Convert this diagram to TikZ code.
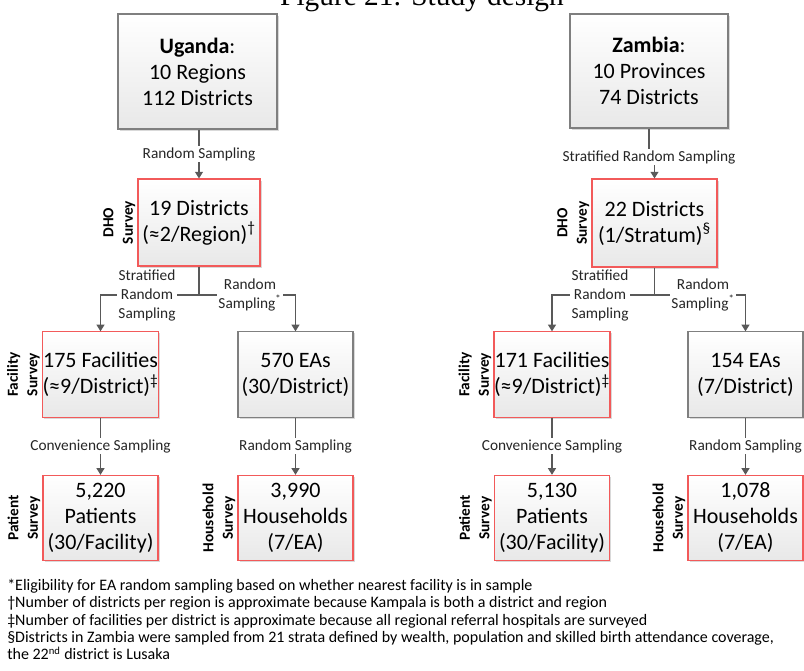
\documentclass[tikz,border=0pt]{standalone}
\usepackage{fontspec}
\setmainfont{Carlito}
\newfontfamily\titlefont{Liberation Serif}
\usetikzlibrary{arrows.meta,shadows}
\definecolor{redb}{HTML}{F25A5A}
\definecolor{greyb}{HTML}{7F7F7F}
\definecolor{arrc}{HTML}{595959}
\begin{document}
\begin{tikzpicture}[x=0.75pt,y=-0.75pt,
 box/.style={draw=greyb, line width=0.8pt, top color=white, bottom color=gray!18, align=center, inner sep=0pt,
   font=\fontsize{16.5}{19.5}\selectfont,
   drop shadow={shadow xshift=1.2pt,shadow yshift=-1.2pt,opacity=0.3}},
 sbox/.style={box, draw=redb},
 lbl/.style={fill=white, inner sep=1pt, align=center, font=\fontsize{11.5}{14.25}\selectfont, text=black!85},
 side/.style={rotate=90, anchor=south, align=center, inner sep=1.5pt, font=\bfseries\fontsize{11.5}{14.5}\selectfont},
 arr/.style={draw=arrc, line width=0.8pt, -{Triangle[width=6pt,length=5pt]}},
 ln/.style={draw=arrc, line width=0.8pt}]
\useasboundingbox (0,0) rectangle (804,671);

% title (cut at top)
\node[font=\titlefont\fontsize{22}{22}\selectfont, anchor=base, inner sep=0pt] (title) at (422,6) {Figure 21: Study design};

% ---------- Uganda ----------
\node[box, minimum width=119.25pt, minimum height=86.25pt] (u) at (197.5,71.5)
  {\textbf{Uganda}:\\10 Regions\\112 Districts};
\node[sbox, minimum width=91.5pt, minimum height=65.25pt] (udho) at (199,222.5)
  {19 Districts\\(≈2/Region)\textsuperscript{†}};
\node[sbox, minimum width=86.25pt, minimum height=64pt] (ufac) at (100.5,374.5)
  {175 Facilities\\(≈9/District)\textsuperscript{‡}};
\node[box, minimum width=86.25pt, minimum height=64pt] (uea) at (295.5,374.5)
  {570 EAs\\(30/District)};
\node[sbox, minimum width=86.25pt, minimum height=64pt] (upat) at (100.5,518)
  {5,220\\Patients\\(30/Facility)};
\node[sbox, minimum width=86.25pt, minimum height=64pt] (uhh) at (295.5,518)
  {3,990\\Households\\(7/EA)};

\node[side] (udhos) at (udho.west) {DHO\\Survey};
\node[side] (ufacs) at (ufac.west) {Facility\\Survey};
\node[side] (upats) at (upat.west) {Patient\\Survey};
\node[side] (uhhs) at (uhh.west) {Household\\Survey};

\draw[arr] (u.south -| udho) -- node[lbl]{Random Sampling} (udho.north);
\coordinate (ub) at (199,295);
\draw[ln] (udho.south) -- (ub);
\draw[arr] (ub) -| (ufac.north);
\draw[arr] (ub) -| (uea.north);
\node[lbl] (ul1) at (147,295) {Stratified\\Random\\Sampling};
\node[lbl] (ul2) at (250,294.5) {Random\\Sampling\textsuperscript{*}};
\draw[arr] (ufac.south) -- node[lbl]{Convenience Sampling} (upat.north);
\draw[arr] (uea.south) -- node[lbl]{Random Sampling} (uhh.north);

% ---------- Zambia ----------
\node[box, minimum width=118.5pt, minimum height=85.5pt] (z) at (649,71)
  {\textbf{Zambia}:\\10 Provinces\\74 Districts};
\node[sbox, minimum width=93.75pt, minimum height=66pt] (zdho) at (654.5,223)
  {22 Districts\\(1/Stratum)\textsuperscript{§}};
\node[sbox, minimum width=86.25pt, minimum height=64pt] (zfac) at (552,374.5)
  {171 Facilities\\(≈9/District)\textsuperscript{‡}};
\node[box, minimum width=86.25pt, minimum height=64pt] (zea) at (745.5,374.5)
  {154 EAs\\(7/District)};
\node[sbox, minimum width=86.25pt, minimum height=64pt] (zpat) at (552,518)
  {5,130\\Patients\\(30/Facility)};
\node[sbox, minimum width=86.25pt, minimum height=64pt] (zhh) at (745.5,518)
  {1,078\\Households\\(7/EA)};

\node[side] (zdhos) at (zdho.west) {DHO\\Survey};
\node[side] (zfacs) at (zfac.west) {Facility\\Survey};
\node[side] (zpats) at (zpat.west) {Patient\\Survey};
\node[side] (zhhs) at (zhh.west) {Household\\Survey};

\coordinate (zl) at (649,157);
\draw[arr] (z.south) -- (zl) -- (zl -| zdho) -- (zdho.north);
\node[lbl] (zl0) at (zl) {Stratified Random Sampling};
\coordinate (zb) at (654.5,295);
\draw[ln] (zdho.south) -- (zb);
\draw[arr] (zb) -| (zfac.north);
\draw[arr] (zb) -| (zea.north);
\node[lbl] (zl1) at (600,295) {Stratified\\Random\\Sampling};
\node[lbl] (zl2) at (703,294.5) {Random\\Sampling\textsuperscript{*}};
\draw[arr] (zfac.south) -- node[lbl]{Convenience Sampling} (zpat.north);
\draw[arr] (zea.south) -- node[lbl]{Random Sampling} (zhh.north);

% ---------- footnotes ----------
\node[anchor=north west, align=left, inner sep=0pt, font=\fontsize{12}{13}\selectfont] (fn) at (7,579)
{*Eligibility for EA random sampling based on whether nearest facility is in sample\\
†Number of districts per region is approximate because Kampala is both a district and region\\
‡Number of facilities per district is approximate because all regional referral hospitals are surveyed\\
§Districts in Zambia were sampled from 21 strata defined by wealth, population and skilled birth attendance coverage,\\
the 22\textsuperscript{nd} district is Lusaka};
\end{tikzpicture}
\end{document}
